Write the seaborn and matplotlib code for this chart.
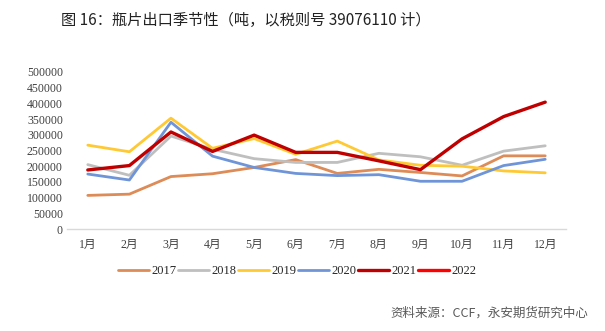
import matplotlib
matplotlib.use("Agg")
import matplotlib.pyplot as plt
from matplotlib.lines import Line2D
import seaborn as sns
import pandas as pd
import numpy as np

months = ["1月", "2月", "3月", "4月", "5月", "6月", "7月", "8月", "9月", "10月", "11月", "12月"]
y2017 = [107000, 111000, 167000, 176000, 196000, 221000, 177000, 190000, 180000, 169000, 233000, 233000]
y2018 = [205000, 171000, 296000, 254000, 224000, 212000, 212000, 241000, 230000, 203000, 248000, 265000]
y2019 = [267000, 246000, 353000, 257000, 288000, 238000, 280000, 220000, 203000, 200000, 185000, 179000]
y2020 = [175000, 156000, 340000, 232000, 196000, 177000, 170000, 173000, 152000, 152000, 202000, 222000]
y2021 = [188000, 202000, 309000, 247000, 299000, 244000, 244000, 217000, 189000, 287000, 358000, 404000]
y2022 = []  # no data plotted, legend entry only
years = ["2017", "2018", "2019", "2020", "2021", "2022"]
colors = ["#DD8B57", "#BFBFBF", "#FFC934", "#6F95D8", "#C00000", "#FF0000"]
yticks = [0, 50000, 100000, 150000, 200000, 250000, 300000, 350000, 400000, 450000, 500000]

sns.set_theme(style="white")
plt.rcParams['font.family'] = ['Noto Sans CJK SC', 'DejaVu Sans']

rows = []
for yr, vals in zip(years[:5], [y2017, y2018, y2019, y2020, y2021]):
    for i, v in enumerate(vals):
        rows.append({"month": i, "value": v, "year": yr})
df = pd.DataFrame(rows)

fig = plt.figure(figsize=(6.05, 3.31), dpi=100)
ax = fig.add_axes([67/605, 1-229/331, (566-67)/605, (229-72)/331])

widths = {"2017": 2.0, "2018": 2.0, "2019": 2.0, "2020": 2.0, "2021": 2.4}
for yr, c in zip(years[:5], colors[:5]):
    sns.lineplot(data=df[df.year == yr], x="month", y="value", color=c, lw=widths[yr],
                 ax=ax, legend=False, clip_on=False)

ax.set_xlim(-0.5, 11.5)
ax.set_ylim(0, 500000)
ax.set_xticks(range(12))
ax.set_xticklabels(months, fontsize=8.5, family=['Liberation Serif', 'Noto Sans CJK SC'], color="#404040")
ax.set_yticks(yticks)
ax.set_yticklabels([str(v) for v in yticks], fontsize=8.5, family=['Liberation Serif'], color="#404040")
ax.tick_params(axis='both', length=0, pad=3)
ax.tick_params(axis='x', pad=7)
ax.set_xlabel("")
ax.set_ylabel("")
for s in ["top", "right", "left"]:
    ax.spines[s].set_visible(False)
ax.spines["bottom"].set_color("#D9D9D9")
ax.spines["bottom"].set_linewidth(1)
ax.grid(False)

handles = [Line2D([0], [0], color=c, lw=2.4 if y in ("2021", "2022") else 2.0) for y, c in zip(years, colors)]
leg = fig.legend(handles, years, loc="center", bbox_to_anchor=(297/605, 1-271/331), ncol=6,
                 frameon=False, prop={'family': 'Liberation Serif', 'size': 9},
                 handlelength=2.5, handletextpad=0.15, columnspacing=0.15)

fig.text(61/605, 1-20/331, "图 16：瓶片出口季节性（吨，以税则号 39076110 计）", fontsize=11,
         ha="left", va="center", color="#222222")
fig.text(588/605, 1-313/331, "资料来源：CCF，永安期货研究中心", fontsize=9,
         ha="right", va="center", color="#595959")

fig.savefig("out.png", dpi=100)
